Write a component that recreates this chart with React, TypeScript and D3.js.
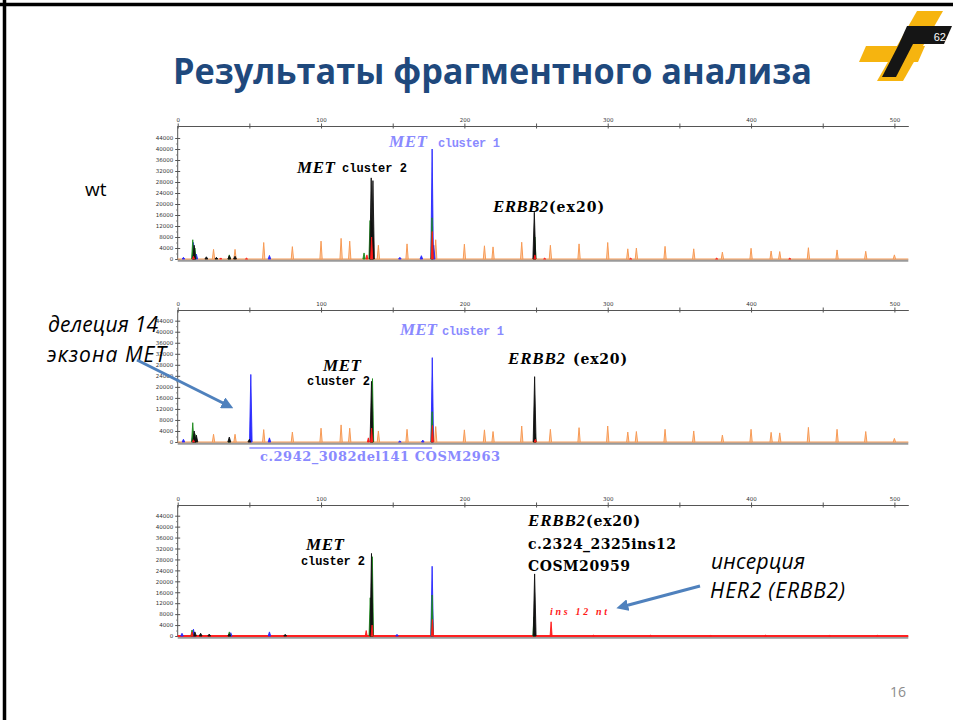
import * as d3 from 'd3'
import { useRef, useEffect } from 'react'

// top axis: fragment size (bp), left axis: RFU
const sizeTicks = [0, 50, 100, 150, 200, 250, 300, 350, 400, 450, 500]
const rfuTicks = [0, 4000, 8000, 12000, 16000, 20000, 24000, 28000, 32000, 36000, 40000, 44000]
const rfuMinor = [2000, 6000, 10000, 14000, 18000, 22000, 26000, 30000, 34000, 38000, 42000]

// size standard (orange)
const ladderSizes = [25, 40, 60, 80, 100, 114, 120, 140, 160, 180, 200, 214, 220, 240, 260, 280, 300, 314, 320, 340, 360, 380, 400, 414, 420, 440, 460, 480, 500]
const wtLadder = [3500, 3500, 6000, 4500, 6500, 7500, 6500, 5000, 5500, 7000, 5400, 4800, 4400, 6100, 5000, 5500, 6000, 3700, 4000, 4600, 3700, 2500, 3900, 2900, 2700, 4100, 3300, 2800, 1500]
const delLadder = [2800, 2800, 4500, 3600, 5000, 6200, 5000, 4000, 4600, 5600, 4400, 4400, 3800, 5800, 4600, 5200, 5800, 3600, 3800, 4600, 4000, 2500, 4600, 3500, 3300, 5300, 4600, 3800, 1300]

// dye peaks: [size, height]
const wtBlue = [[4, 600], [11, 6000], [13, 1800], [64, 1300], [155, 600], [170, 1200], [177.5, 40000], [178.6, 5000]]
const wtGreen = [[10.5, 7000], [12, 4000], [36, 1500], [130, 2200], [134.2, 14000], [177.4, 15000], [249.2, 8000]]
const wtBlack = [[11.5, 5000], [20, 800], [27, 600], [36, 1200], [40, 1000], [135, 29500], [136.2, 28500], [248.8, 17000]]
const wtRed = [[11, 1000], [30, 400], [48, 300], [132, 1500], [135.3, 8000], [177.6, 10000], [249.2, 1500], [256, 300], [316, 300], [376, 300], [427, 300]]

const delBlue = [[4, 1000], [10.5, 2000], [51, 24500], [64, 1500], [155, 400], [171, 700], [177.6, 30600]]
const delGreen = [[10.5, 7000], [12, 3000], [36, 800], [135.9, 23000], [177.5, 11000], [249.3, 3000]]
const delBlack = [[11.5, 4000], [13, 2500], [36, 1800], [50, 1000], [135.2, 22000], [249, 23700]]
const delRed = [[11, 800], [133, 1500], [135.3, 5000], [177.7, 6000], [249.5, 1000]]

const insBlue = [[3, 1000], [11, 2500], [37, 1200], [64, 1500], [153, 600], [177.5, 25500]]
const insGreen = [[10, 2200], [36, 1500], [134.3, 14000], [135.8, 29000], [177.5, 15000], [248.6, 7000]]
const insBlack = [[12, 1500], [16, 1000], [22, 700], [36, 800], [75, 600], [135.2, 30200], [249, 22700]]
const insRed = [[10, 1500], [131.5, 2000], [135.6, 4000], [177.7, 6000], [260.5, 5200], [290, 300], [330, 300], [372, 300], [410, 300], [455, 300], [488, 300]]

const panels = [
  { axisY: 126, top: 138, base: 259, ladder: wtLadder, blue: wtBlue, green: wtGreen, black: wtBlack, red: wtRed, line: '#f79a55' },
  { axisY: 310, top: 320.7, base: 442, ladder: delLadder, blue: delBlue, green: delGreen, black: delBlack, red: delRed, line: '#f79a55' },
  { axisY: 505, top: 515.7, base: 636, ladder: null, blue: insBlue, green: insGreen, black: insBlack, red: insRed, line: '#ff2020' },
]

const xMax = 509.7
const x = d3.scaleLinear().domain([0, xMax]).range([177.7, 908.3])

const serifIt = { fontFamily: 'Liberation Serif', fontStyle: 'italic', fontWeight: 'bold' }
const mono = { fontFamily: 'Liberation Mono', fontWeight: 'bold' }
const serifB = { fontFamily: 'DejaVu Serif', fontWeight: 'bold' }
const slide = { fontFamily: 'Open Sans' }

const Panel = ({ p }) => {
  const xAxis = useRef(null)
  const yAxis = useRef(null)
  const yMinor = useRef(null)
  const y = d3.scaleLinear().domain([0, 44000]).range([p.base, p.top])

  useEffect(() => {
    d3.select(xAxis.current)
      .call(d3.axisTop(x).tickValues(sizeTicks).tickFormat(d => (d % 100 === 0 ? String(d) : '')).tickSize(2.5).tickSizeOuter(0).tickPadding(1.5))
      .call(g => g.attr('font-size', 5.5).attr('font-family', 'DejaVu Sans'))
      .call(g => g.selectAll('line, path').attr('stroke', '#555'))
      .call(g => g.selectAll('line').attr('y2', 2.5).attr('y1', -2.5))
      .call(g => g.selectAll('text').attr('fill', '#333'))
    d3.select(yAxis.current)
      .call(d3.axisLeft(y).tickValues(rfuTicks).tickFormat(d => String(d)).tickSize(2.5).tickSizeOuter(0).tickPadding(2))
      .call(g => g.select('.domain').remove())
      .call(g => g.attr('font-size', 5.5).attr('font-family', 'DejaVu Sans'))
      .call(g => g.selectAll('line').attr('stroke', '#555').attr('x2', 2.5).attr('x1', -2.5))
      .call(g => g.selectAll('text').attr('fill', '#333'))
    d3.select(yMinor.current)
      .call(d3.axisLeft(y).tickValues(rfuMinor).tickFormat(() => '').tickSize(1.5).tickSizeOuter(0))
      .call(g => g.select('.domain').remove())
      .call(g => g.selectAll('line').attr('stroke', '#777'))
  })

  const area = d3.area().x(d => x(d[0])).y0(p.base).y1(d => y(d[1]))
  const peak = (pk, w) => area([[pk[0] - w, 0], [pk[0], pk[1]], [pk[0] + w, 0]])
  const dye = (list, color, w) =>
    list.map((pk, i) => <path key={color + i} d={peak(pk, w)} fill={color} stroke={color} strokeWidth={0.9} strokeLinejoin="round" />)

  return (
    <g>
      <line x1={x(0)} x2={x(0)} y1={p.axisY} y2={p.base} stroke="#555" strokeWidth={1} />
      <g ref={xAxis} transform={`translate(0, ${p.axisY})`} />
      <g ref={yAxis} transform={`translate(${x(0)}, 0)`} />
      <g ref={yMinor} transform={`translate(${x(0)}, 0)`} />
      <line x1={x(0)} x2={x(xMax)} y1={p.base + 1.5} y2={p.base + 1.5} stroke="#9a9a9a" strokeWidth={2.5} />
      <line x1={x(0)} x2={x(xMax)} y1={p.base} y2={p.base} stroke={p.line} strokeWidth={p.ladder ? 1.2 : 2} />
      {p.ladder &&
        ladderSizes.map((s, i) => (
          <path key={'l' + i} d={peak([s, p.ladder[i]], 0.8)} fill="#fdd2b0" stroke="#f79a55" strokeWidth={1} />
        ))}
      {dye(p.blue, '#2a2aff', 0.9)}
      {dye(p.green, '#1e8a1e', 0.8)}
      {dye(p.black, '#111111', 1.0)}
      {dye(p.red, '#ff1a1a', 0.7)}
    </g>
  )
}

const Arrow = ({ x1, y1, x2, y2 }) => (
  <line x1={x1} y1={y1} x2={x2} y2={y2} stroke="#4f81bd" strokeWidth={3} markerEnd="url(#arrowHead)" />
)

export default function App() {
  return (
    <svg width={953} height={720} style={{ position: 'absolute', left: 0, top: 0, background: '#fff' }}>
      <defs>
        <marker id="arrowHead" viewBox="0 0 10 10" refX={6} refY={5} markerWidth={4} markerHeight={4} orient="auto">
          <path d="M0,0 L10,5 L0,10 Z" fill="#4f81bd" />
        </marker>
      </defs>
      <rect width={953} height={720} fill="#fff" />
      <line x1={0} x2={953} y1={4.5} y2={4.5} stroke="#000" strokeWidth={3.5} />
      <line x1={4.5} x2={4.5} y1={0} y2={720} stroke="#000" strokeWidth={3.5} />

      {/* logo */}
      <g>
        <polygon points="917,11 943,11 903,81 877,81" fill="#f6b40f" />
        <polygon points="866,46 925,46 918,62 859,62" fill="#f6b40f" />
        <polygon points="907,26 952,26 944,44 899,44" fill="#151515" />
        <polygon points="899,44 913,44 896,77 882,77" fill="#151515" />
        <text x={946} y={41} textAnchor="end" fill="#fff" fontSize={11} fontFamily="Liberation Sans">62</text>
      </g>

      <text x={173} y={84} textLength={639} lengthAdjust="spacingAndGlyphs" fill="#1f497d" fontSize={36} fontWeight="bold" style={slide}>
        Результаты фрагментного анализа
      </text>

      {panels.map((p, i) => <Panel key={i} p={p} />)}

      {/* panel 1 labels */}
      <text x={389} y={147} fill="#8a8aff" fontSize={17} style={serifIt} textLength={38}>MET</text>
      <text x={438} y={147} fill="#8a8aff" fontSize={12} style={mono} textLength={62}>cluster 1</text>
      <text x={297} y={173} fill="#000" fontSize={17} style={serifIt} textLength={38}>MET</text>
      <text x={342} y={172} fill="#000" fontSize={12} style={mono} textLength={65}>cluster 2</text>
      <text x={493} y={212} fill="#000" fontSize={17} style={serifIt} textLength={55}>ERBB2</text>
      <text x={549} y={212} fill="#000" fontSize={14} style={serifB} textLength={55}>(ex20)</text>

      {/* panel 2 labels */}
      <text x={400} y={335} fill="#8a8aff" fontSize={17} style={serifIt} textLength={37}>MET</text>
      <text x={442} y={335} fill="#8a8aff" fontSize={12} style={mono} textLength={62}>cluster 1</text>
      <text x={323} y={371} fill="#000" fontSize={17} style={serifIt} textLength={38}>MET</text>
      <text x={307} y={385} fill="#000" fontSize={12} style={mono} textLength={63}>cluster 2</text>
      <text x={508} y={364} fill="#000" fontSize={17} style={serifIt} textLength={57}>ERBB2</text>
      <text x={573} y={364} fill="#000" fontSize={14} style={serifB} textLength={54}>(ex20)</text>
      <line x1={x(50)} x2={x(177.5)} y1={448} y2={448} stroke="#8a8aff" strokeWidth={1.5} />
      <text x={260} y={461} fill="#8a8aff" fontSize={13} style={serifB} textLength={240}>c.2942_3082del141 COSM2963</text>

      {/* panel 3 labels */}
      <text x={306} y={550} fill="#000" fontSize={17} style={serifIt} textLength={38}>MET</text>
      <text x={301} y={565} fill="#000" fontSize={12} style={mono} textLength={64}>cluster 2</text>
      <text x={528} y={526} fill="#000" fontSize={17} style={serifIt} textLength={57}>ERBB2</text>
      <text x={586} y={526} fill="#000" fontSize={14} style={serifB} textLength={54}>(ex20)</text>
      <text x={528} y={549} fill="#000" fontSize={14} style={serifB} textLength={148}>c.2324_2325ins12</text>
      <text x={528} y={571} fill="#000" fontSize={14} style={serifB} textLength={102}>COSM20959</text>
      <text x={550} y={615} fill="#ff1a1a" fontSize={10} style={serifIt} textLength={57}>ins 12 nt</text>

      {/* slide annotations */}
      <text x={85} y={196} fill="#000" fontSize={19} style={slide}>wt</text>
      <text x={48} y={332} fill="#000" fontSize={21} fontStyle="italic" style={slide} textLength={110}>делеция 14</text>
      <text x={47} y={362} fill="#000" fontSize={21} fontStyle="italic" style={slide} textLength={119}>экзона MET</text>
      <Arrow x1={137} y1={360} x2={229} y2={406} />
      <text x={711} y={569} fill="#000" fontSize={21} fontStyle="italic" style={slide} textLength={94}>инсерция</text>
      <text x={710} y={598} fill="#000" fontSize={21} fontStyle="italic" style={slide} textLength={135}>HER2 (ERBB2)</text>
      <Arrow x1={700} y1={586} x2={621} y2={607} />

      <text x={906} y={697} textAnchor="end" fill="#8c8c8c" fontSize={14} style={slide}>16</text>
    </svg>
  )
}
